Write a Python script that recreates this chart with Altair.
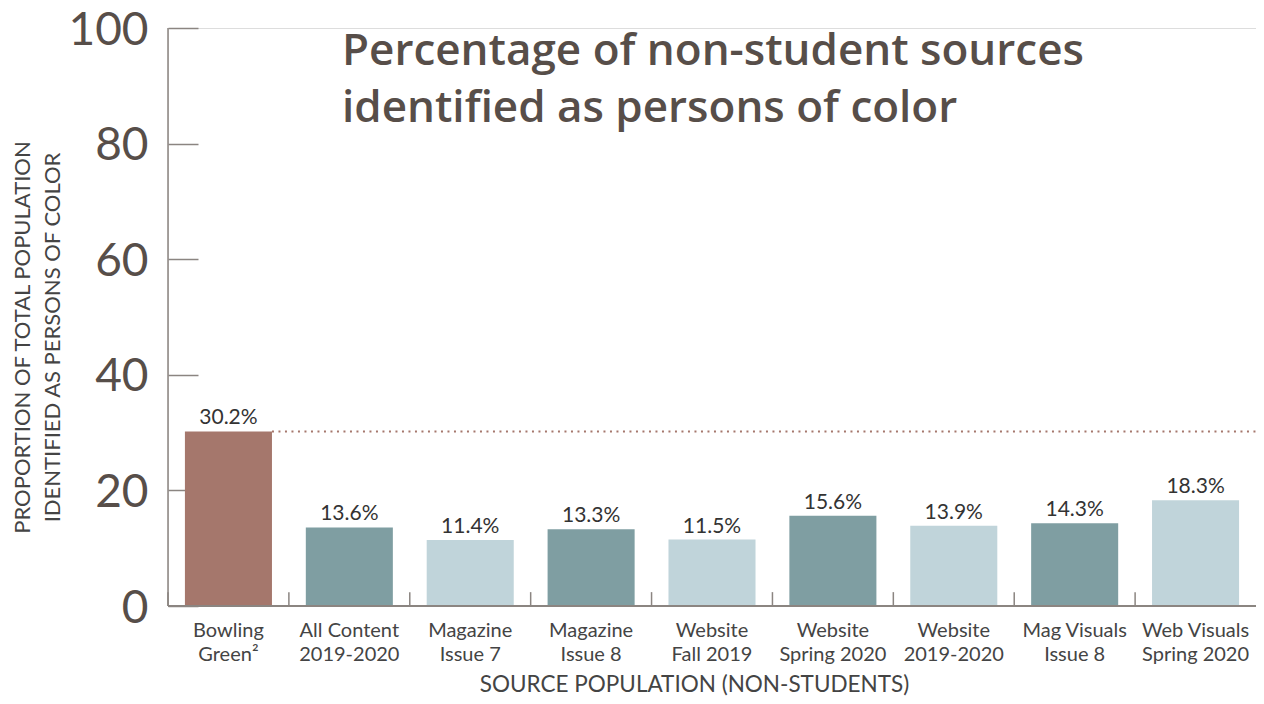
import altair as alt
import pandas as pd

categories = [
    "Bowling|Green²",
    "All Content|2019-2020",
    "Magazine|Issue 7",
    "Magazine|Issue 8",
    "Website|Fall 2019",
    "Website|Spring 2020",
    "Website|2019-2020",
    "Mag Visuals|Issue 8",
    "Web Visuals|Spring 2020",
]
values = [30.2, 13.6, 11.4, 13.3, 11.5, 15.6, 13.9, 14.3, 18.3]
groups = ["benchmark", "dark", "light", "dark", "light", "dark", "light", "dark", "light"]
benchmark = 30.2
y_ticks = [0, 20, 40, 60, 80, 100]
title_text = "Percentage of non-student sources\nidentified as persons of color"

group_domain = ["benchmark", "dark", "light"]
group_colors = ["#a5776c", "#7f9ea2", "#c0d4da"]

df = pd.DataFrame({"cat": categories, "value": values, "group": groups})
df["label"] = df["value"].map(lambda v: f"{v:.1f}%")

W = 1088
H = 578
FONT = "Lato"
AXIS_GRAY = "#8b8581"
BROWN_TEXT = "#574e49"
LABEL_GRAY = "#444444"
P_INNER = 0.28

x_scale = alt.Scale(domain=categories, paddingInner=P_INNER, paddingOuter=P_INNER / 2)

x_enc = alt.X(
    "cat:N",
    sort=categories,
    scale=x_scale,
    axis=alt.Axis(
        title="SOURCE POPULATION (NON-STUDENTS)",
        titleFont=FONT,
        titleFontSize=22.5,
        titleFontWeight="normal",
        titleColor=LABEL_GRAY,
        titleX=526,
        titleY=85,
        titleBaseline="alphabetic",
        labelExpr="split(datum.label, '|')",
        labelFont=FONT,
        labelFontSize=20,
        labelColor=LABEL_GRAY,
        labelLineHeight=24,
        labelAngle=0,
        labelAlign="center",
        labelPadding=14,
        labelBaseline="top",
        domain=False,
        ticks=False,
    ),
)

y_enc = alt.Y(
    "value:Q",
    scale=alt.Scale(domain=[0, 100], nice=False),
    axis=alt.Axis(
        values=y_ticks,
        title=["PROPORTION OF TOTAL POPULATION", "IDENTIFIED AS PERSONS OF COLOR"],
        titleFont=FONT,
        titleFontSize=22,
        titleFontWeight="normal",
        titleColor=LABEL_GRAY,
        titleLineHeight=30,
        titleY=309,
        titleX=-176,
        titleAngle=270,
        titleBaseline="middle",
        labelFont=FONT,
        labelFontSize=46,
        labelFontWeight="normal",
        labelColor=BROWN_TEXT,
        labelPadding=20,
        labelOffset=2,
        domain=False,
        offset=-30,
        tickSize=30,
        tickColor=AXIS_GRAY,
        tickWidth=1.5,
        grid=False,
    ),
)

base = alt.Chart(df)

# small upward ticks at the boundaries between categories
step = W / len(categories)
x_ticks = base.mark_rule(
    color=AXIS_GRAY, strokeWidth=1.5, xOffset=-step * P_INNER / 2
).encode(
    x=alt.X("cat:N", sort=categories, scale=x_scale, bandPosition=0),
    y=alt.datum(0),
    y2=alt.datum(2.4),
)

bars = base.mark_bar().encode(
    x=x_enc,
    y=y_enc,
    color=alt.Color(
        "group:N",
        scale=alt.Scale(domain=group_domain, range=group_colors),
        legend=None,
    ),
)

labels = base.mark_text(
    baseline="alphabetic", dy=-7, font=FONT, fontSize=21, color="#333333"
).encode(
    x=alt.X("cat:N", sort=categories, scale=x_scale),
    y="value:Q",
    text="label:N",
)

bench_df = pd.DataFrame({"cat": [categories[0]], "value": [benchmark]})
bench_line = alt.Chart(bench_df).mark_rule(
    color="#a5776c", strokeDash=[2, 4.5], strokeWidth=2
).encode(
    x=alt.X("cat:N", sort=categories, scale=x_scale, bandPosition=1),
    x2=alt.value(W),
    y="value:Q",
)

y_domain = alt.Chart(pd.DataFrame({"value": [0], "top": [100]})).mark_rule(
    color=AXIS_GRAY, strokeWidth=1.5
).encode(x=alt.value(0), y="value:Q", y2="top:Q")

x_domain = alt.Chart(pd.DataFrame({"value": [0]})).mark_rule(
    color=AXIS_GRAY, strokeWidth=2
).encode(x=alt.value(0), x2=alt.value(W), y="value:Q")

title = alt.Chart(pd.DataFrame({"t": [title_text]})).mark_text(
    align="left",
    baseline="alphabetic",
    font="Open Sans",
    fontSize=44,
    fontWeight=600,
    color=BROWN_TEXT,
    lineBreak="\n",
    lineHeight=57,
).encode(x=alt.value(174), y=alt.value(37), text="t:N")

chart = (
    alt.layer(y_domain, x_ticks, bench_line, bars, x_domain, labels, title)
    .properties(
        width=W,
        height=H,
        autosize=alt.AutoSizeParams(type="none"),
        padding={"left": 160, "top": 20, "right": 0, "bottom": 90},
    )
    .configure_view(stroke=None)
    .configure(background="white")
)

chart.save("out.html", embed_options={"renderer": "svg", "actions": False})
